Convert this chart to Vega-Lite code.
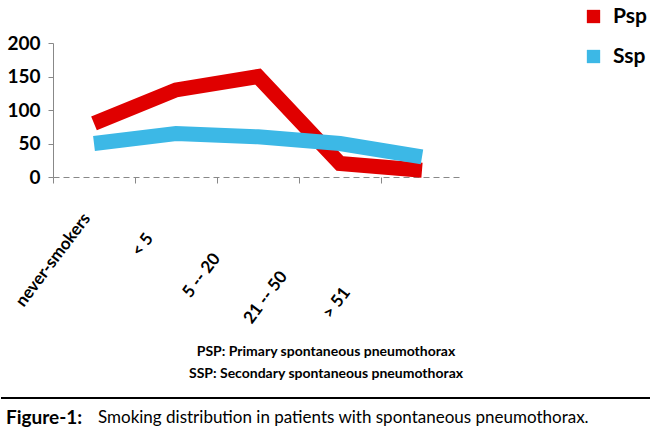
{
  "$schema": "https://vega.github.io/schema/vega-lite/v6.json",
  "background": "white",
  "padding": {"top": 6, "left": 0, "right": 0, "bottom": 0},
  "spacing": 18,
  "align": "none",
  "config": {
    "font": "Lato",
    "view": {"stroke": null}
  },
  "vconcat": [
    {
      "width": 410,
      "height": 134,
      "data": {
        "values": [
          {"smoking": "never-smokers", "series": "Psp", "patients": 80},
          {"smoking": "< 5", "series": "Psp", "patients": 130},
          {"smoking": "5 -- 20", "series": "Psp", "patients": 150},
          {"smoking": "21 -- 50", "series": "Psp", "patients": 20},
          {"smoking": "> 51", "series": "Psp", "patients": 10},
          {"smoking": "never-smokers", "series": "Ssp", "patients": 50},
          {"smoking": "< 5", "series": "Ssp", "patients": 65},
          {"smoking": "5 -- 20", "series": "Ssp", "patients": 60},
          {"smoking": "21 -- 50", "series": "Ssp", "patients": 50},
          {"smoking": "> 51", "series": "Ssp", "patients": 30}
        ]
      },
      "mark": {"type": "line", "strokeWidth": 15, "strokeCap": "butt", "strokeJoin": "miter"},
      "encoding": {
        "x": {
          "field": "smoking",
          "type": "ordinal",
          "sort": null,
          "title": null,
          "scale": {"type": "band", "paddingInner": 0, "paddingOuter": 0},
          "axis": {
            "bandPosition": 0,
            "labelAngle": -53,
            "labelFontSize": 17,
            "labelFontWeight": "bold",
            "labelColor": "black",
            "labelOffset": {
              "condition": [
                {"test": "datum.value === '< 5'", "value": -26},
                {"test": "datum.value === '5 -- 20'", "value": -41},
                {"test": "datum.value === '21 -- 50'", "value": -56},
                {"test": "datum.value === '> 51'", "value": -75}
              ],
              "value": -7
            },
            "labelPadding": {
              "condition": [
                {"test": "datum.value === '< 5'", "value": 52},
                {"test": "datum.value === '5 -- 20'", "value": 72},
                {"test": "datum.value === '21 -- 50'", "value": 90},
                {"test": "datum.value === '> 51'", "value": 106}
              ],
              "value": 32
            },
            "domainColor": "#888888",
            "domainDash": [6, 4],
            "tickColor": "#888888",
            "tickSize": 6
          }
        },
        "y": {
          "field": "patients",
          "type": "quantitative",
          "title": null,
          "scale": {"domain": [0, 200]},
          "axis": {
            "values": [0, 50, 100, 150, 200],
            "grid": false,
            "minExtent": 52,
            "labelFontSize": 19,
            "labelFontWeight": "bold",
            "labelColor": "black",
            "labelPadding": 8,
            "domainColor": "#888888",
            "tickColor": "#888888"
          }
        },
        "color": {
          "field": "series",
          "type": "nominal",
          "scale": {"domain": ["Psp", "Ssp"], "range": ["#e00000", "#3cb8e6"]},
          "legend": {
            "title": null,
            "orient": "none",
            "legendX": 530,
            "legendY": -37,
            "symbolType": "square",
            "symbolSize": 40,
            "symbolStrokeWidth": 7,
            "labelFontSize": 21,
            "labelFontWeight": "bold",
            "labelColor": "black",
            "labelOffset": 9,
            "rowPadding": 5
          }
        }
      }
    },
    {
      "width": 546,
      "height": 66,
      "data": {
        "values": [
          {"line": "psp", "part": "centre", "text": "PSP: Primary spontaneous pneumothorax"},
          {"line": "ssp", "part": "centre", "text": "SSP: Secondary spontaneous pneumothorax"},
          {"line": "fig", "part": "label", "text": "Figure-1:"},
          {"line": "fig", "part": "body", "text": "Smoking distribution in patients with spontaneous pneumothorax."}
        ]
      },
      "encoding": {
        "y": {
          "field": "line",
          "type": "ordinal",
          "scale": {"type": "point", "domain": ["psp", "ssp", "rule", "fig"], "padding": 0},
          "axis": null
        },
        "text": {"field": "text"}
      },
      "layer": [
        {
          "transform": [{"filter": "datum.part == 'centre'"}],
          "mark": {"type": "text", "fontSize": 14, "fontWeight": "bold", "align": "center", "baseline": "middle"}
        },
        {
          "transform": [{"filter": "datum.part == 'label'"}],
          "mark": {"type": "text", "fontSize": 19, "fontWeight": "bold", "align": "left", "baseline": "middle", "x": -47}
        },
        {
          "transform": [{"filter": "datum.part == 'body'"}],
          "mark": {"type": "text", "fontSize": 17, "align": "left", "baseline": "middle", "x": -47, "dx": 92}
        },
        {
          "mark": {"type": "rule", "strokeWidth": 2, "color": "black", "x": -52, "x2": 598, "yOffset": 2},
          "encoding": {"y": {"datum": "rule", "type": "ordinal"}, "text": null}
        }
      ]
    }
  ]
}
